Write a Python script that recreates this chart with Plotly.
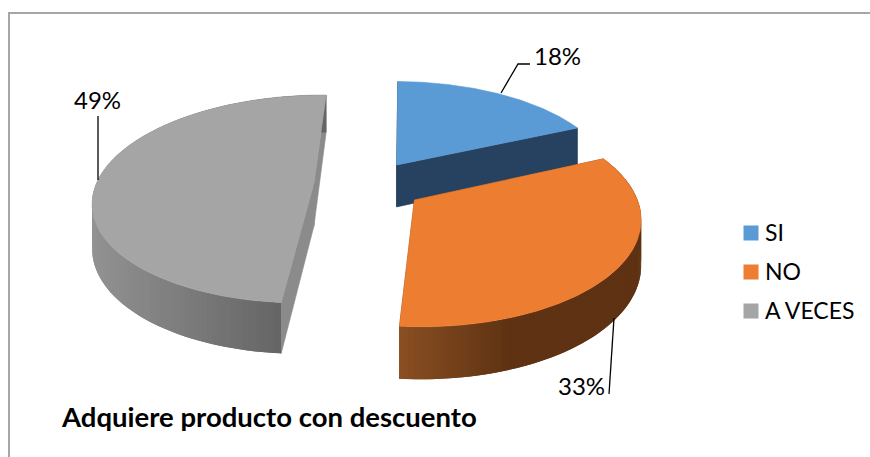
import numpy as np
import plotly.graph_objects as go

# Survey answers, in percent
categories = ["SI", "NO", "A VECES"]
values = [18, 33, 49]
title_text = "Adquiere producto con descuento"

top_colors = ["#5b9bd5", "#ed7d31", "#a5a5a5"]
wall_colors = ["#264260", "#7a4519", "#8b8b8b"]

# How far each slice is pulled out of the pie, in radius units
explode = [(0.074, 0.182), (0.15, -0.163), (-0.3085, 0.0)]

# Angle of the first slice, and the camera that flattens the disc (pixel units)
FIRST_SLICE = np.radians(1.0)
VX, VY, HZ, FX, DEPTH, THICK = 381, -477, 4290, 1413, 6.5, 280


def project(x, y, down=False):
    """Perspective projection of a disc point; y runs away from the viewer."""
    x, y = np.asarray(x, float), np.asarray(y, float)
    d = DEPTH + y
    sx = VX + FX * x / d
    sy = VY + HZ / d + (THICK / d if down else 0)
    return sx, sy


def shade(px, stops):
    """Linear colour ramp along the page x position."""
    xs = [s[0] for s in stops]
    chans = [np.interp(px, xs, [s[1][i] for s in stops]) for i in range(3)]
    return "rgb(%d,%d,%d)" % tuple(round(c) for c in chans)


ramps = {
    1: [(398, (138, 79, 34)), (510, (94, 50, 18)), (650, (94, 50, 18))],
    2: [(93, (146, 146, 146)), (284, (100, 100, 100))],
}

fig = go.Figure()


def polygon(xs, ys, color, edge=0.6):
    fig.add_trace(go.Scatter(
        x=list(xs), y=list(ys), mode="lines", fill="toself", fillcolor=color,
        line=dict(color=color, width=edge), hoverinfo="skip", showlegend=False,
    ))


bounds = np.cumsum([0] + values) / sum(values) * 2 * np.pi + FIRST_SLICE
draw_order = [2, 0, 1]

for i in draw_order:
    a0, a1 = bounds[i], bounds[i + 1]
    ox, oy = explode[i]
    t = np.linspace(a0, a1, 241)
    rim_x, rim_y = ox + np.sin(t), oy + np.cos(t)

    # radial walls
    for a in (a0, a1):
        wx = np.array([ox, ox + np.sin(a)])
        wy = np.array([oy, oy + np.cos(a)])
        tx, ty = project(wx, wy)
        bx, by = project(wx, wy, down=True)
        polygon(np.r_[tx, bx[::-1], tx[0]], np.r_[ty, by[::-1], ty[0]], wall_colors[i])

    # curved outer wall: overlapping strips, each painted over the one before
    if i in ramps:
        tx, ty = project(rim_x, rim_y)
        bx, by = project(rim_x, rim_y, down=True)
        for k in range(0, len(t) - 1, 2):
            j = np.arange(k, min(k + 5, len(t)))
            polygon(np.r_[tx[j], bx[j][::-1], tx[j[0]]],
                    np.r_[ty[j], by[j][::-1], ty[j[0]]],
                    shade(tx[j[:3]].mean(), ramps[i]), edge=0)

    # top face
    fx, fy = project(np.r_[ox, rim_x, ox], np.r_[oy, rim_y, oy])
    polygon(fx, fy, top_colors[i])

# legend: square swatch plus name for each answer
legend_y = [233, 272, 311]
for name, color, ly in zip(categories, top_colors, legend_y):
    fig.add_trace(go.Scatter(
        x=[751], y=[ly], mode="markers", name=name, hoverinfo="skip", showlegend=False,
        marker=dict(symbol="square", size=15, color=color),
    ))
    fig.add_annotation(x=763, y=ly - 1, xanchor="left", text=name, showarrow=False,
                       font=dict(family="Lato", size=23, color="#000000"))

# percentage labels and their leader lines
label_pos = [(557, 55), (581, 385), (97, 99)]
leaders = [
    [(501, 93), (518, 64), (530, 64)],
    [(614, 318), (609, 394)],
    [(98, 180), (98, 116)],
]
for v, (lx, ly), path in zip(values, label_pos, leaders):
    fig.add_annotation(x=lx, y=ly, text=f"{v}%", showarrow=False,
                       font=dict(family="Lato", size=24, color="#000000"))
    fig.add_trace(go.Scatter(
        x=[p[0] for p in path], y=[p[1] for p in path], mode="lines",
        line=dict(color="#000000", width=1.3), hoverinfo="skip", showlegend=False,
    ))

fig.add_annotation(x=59, y=416, xanchor="left", text=f"<b>{title_text}</b>", showarrow=False,
                   font=dict(family="Lato", size=27.5, color="#000000"))

# chart frame
fig.add_shape(type="rect", x0=9, y0=13, x1=890, y1=480,
              line=dict(color="#a6a6a6", width=2), layer="below")

fig.update_layout(
    width=870, height=457, margin=dict(l=0, r=0, t=0, b=0),
    paper_bgcolor="#ffffff", plot_bgcolor="#ffffff", showlegend=False,
    xaxis=dict(range=[0, 870], visible=False, fixedrange=True),
    yaxis=dict(range=[457, 0], visible=False, fixedrange=True),
)

fig.write_html("out.html")
